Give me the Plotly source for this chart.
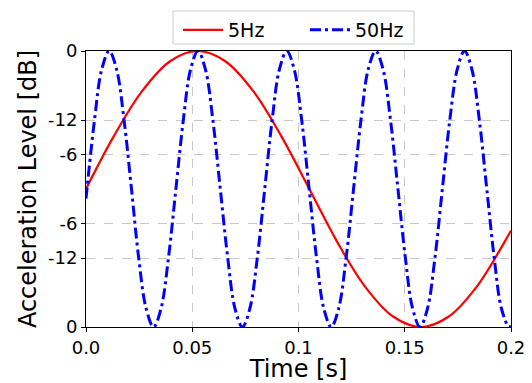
import plotly.graph_objects as go

# 5 Hz series (time in s, normalised level)
t_5hz = [0.0, 0.0131, 0.0263, 0.0394, 0.0525, 0.0657, 0.0788, 0.0919, 0.1051,
         0.1182, 0.1313, 0.1445, 0.1576, 0.1707, 0.1839, 0.1970, 0.2000]
v_5hz = [0.0, 0.383, 0.707, 0.924, 1.0, 0.924, 0.707, 0.383, 0.0,
         -0.383, -0.707, -0.924, -1.0, -0.924, -0.707, -0.383, -0.30]

# 50 Hz series
t_50hz = [0.0, 0.0040, 0.0074,
          0.0109, 0.0144, 0.0179, 0.0214, 0.0248, 0.0283, 0.0318, 0.0353, 0.0388, 0.0423, 0.0458, 0.0492,
          0.0527, 0.0562, 0.0597, 0.0632, 0.0667, 0.0701, 0.0736, 0.0771, 0.0806, 0.0841, 0.0876, 0.0910,
          0.0945, 0.0980, 0.1015, 0.1050, 0.1085, 0.1119, 0.1154, 0.1189, 0.1224, 0.1259, 0.1294, 0.1328,
          0.1363, 0.1398, 0.1433, 0.1468, 0.1503, 0.1537, 0.1572, 0.1607, 0.1642, 0.1677, 0.1712, 0.1747,
          0.1781, 0.1816, 0.1851, 0.1886, 0.1921, 0.1955, 0.1990, 0.2000]
v_50hz = [-0.07, 0.5, 0.866,
          1.0, 0.866, 0.5, 0.0, -0.5, -0.866, -1.0, -0.866, -0.5, 0.0, 0.5, 0.866,
          1.0, 0.866, 0.5, 0.0, -0.5, -0.866, -1.0, -0.866, -0.5, 0.0, 0.5, 0.866,
          1.0, 0.866, 0.5, 0.0, -0.5, -0.866, -1.0, -0.866, -0.5, 0.0, 0.5, 0.866,
          1.0, 0.866, 0.5, 0.0, -0.5, -0.866, -1.0, -0.866, -0.5, 0.0, 0.5, 0.866,
          1.0, 0.866, 0.5, 0.0, -0.5, -0.866, -1.0, -0.99]

x_tickvals = [0.0, 0.05, 0.1, 0.15, 0.2]
x_ticktext = ["0.0", "0.05", "0.1", "0.15", "0.2"]
y_tickvals = [-1.0, -0.5, -0.25, 0.25, 0.5, 1.0]
y_ticktext = ["0", "-12", "-6", "-6", "-12", "0"]

FONT = "DejaVu Sans"
W, H = 532, 383
ML, MR, MT, MB = 86, 21, 51, 56
PW, PH = W - ML - MR, H - MT - MB

fig = go.Figure()
fig.add_trace(go.Scatter(x=t_5hz, y=v_5hz, mode="lines", name="5Hz", legend="legend",
                         line=dict(color="#ff0000", width=2.2, shape="spline")))
fig.add_trace(go.Scatter(x=t_50hz, y=v_50hz, mode="lines", name="50Hz", legend="legend2",
                         line=dict(color="#0000ff", width=3, shape="spline",
                                   dash="11px,4px,3px,4px")))

axis_common = dict(
    showline=True, linecolor="black", linewidth=1, mirror=True,
    ticks="outside", ticklen=4, tickcolor="black", tickwidth=1,
    showgrid=True, gridcolor="#c8c8c8", griddash="dash", gridwidth=1,
    zeroline=False, automargin=False,
    tickfont=dict(family=FONT, size=18, color="black"),
)

fig.update_xaxes(range=[0, 0.2], tickvals=x_tickvals, ticktext=x_ticktext,
                 title=dict(text="Time [s]", font=dict(family=FONT, size=24, color="black"),
                            standoff=7),
                 **axis_common)
fig.update_yaxes(range=[-1, 1], tickvals=y_tickvals, ticktext=y_ticktext,
                 title=dict(text="Acceleration Level [dB]",
                            font=dict(family=FONT, size=24, color="black"), standoff=4),
                 **axis_common)

legend_common = dict(orientation="h", xref="container", yref="container",
                     xanchor="left", y=1 - 11 / H, yanchor="top",
                     borderwidth=0, bgcolor="rgba(0,0,0,0)",
                     font=dict(family=FONT, size=19, color="black"), itemwidth=40)

# legend frame (px -> paper coords)
bx0, bx1, by0, by1 = 173, 414, 11, 44
fig.add_shape(type="rect", xref="paper", yref="paper",
              x0=(bx0 - ML) / PW, x1=(bx1 - ML) / PW,
              y0=(H - MB - by1) / PH, y1=(H - MB - by0) / PH,
              line=dict(color="#cccccc", width=1), fillcolor="white", layer="below")

fig.update_layout(
    width=W, height=H,
    margin=dict(l=ML, r=MR, t=MT, b=MB, autoexpand=False),
    paper_bgcolor="white", plot_bgcolor="white",
    font=dict(family=FONT, color="black"),
    showlegend=True,
    legend=dict(x=178 / W, **legend_common),
    legend2=dict(x=305 / W, **legend_common),
)

fig.write_html("out.html", config={"displayModeBar": False},
               post_script="document.body.style.margin='0';")
